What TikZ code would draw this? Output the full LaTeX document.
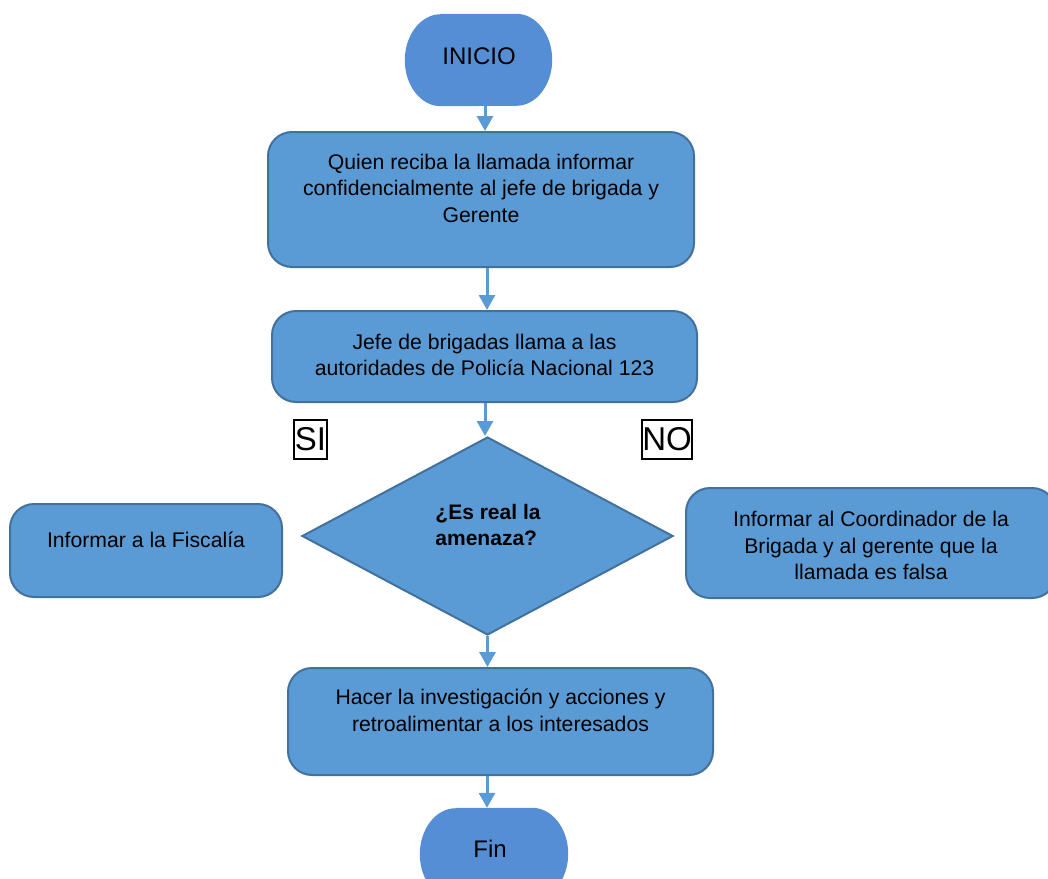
\documentclass[tikz,border=0pt]{standalone}
\usepackage{fontspec}
\setmainfont{Liberation Sans}
\usetikzlibrary{shapes.geometric,arrows.meta}
\definecolor{boxfill}{HTML}{5B9BD5}
\definecolor{boxline}{HTML}{41719C}
\definecolor{termfill}{HTML}{558ED5}
\begin{document}
\begin{tikzpicture}[x=1pt,y=-1pt,
  box/.style={draw=boxline, line width=2pt, fill=boxfill, rounded corners=24pt, inner sep=0pt},
  frame/.style={inner sep=0pt},
  decision/.style={diamond, draw=boxline, line width=2pt, fill=boxfill, inner sep=0pt},
  txt/.style={font=\fontsize{21.2}{26.5}\selectfont, align=center, text=black, inner sep=0pt},
  bigtxt/.style={font=\fontsize{24}{30}\selectfont, text=black, inner sep=0pt},
  tag/.style={draw=black, line width=1.4pt, font=\fontsize{33}{36}\selectfont, inner sep=0pt, text=black},
  arr/.style={draw=boxfill, line width=3pt, -{Triangle[length=15pt,width=16pt]}}]
\useasboundingbox (0,0) rectangle (1048,878);

% terminals
\node[frame, minimum width=147pt, minimum height=92pt] (inicio) at (478.5,60) {};
\fill[termfill] ([xshift=36pt]inicio.north west) -- ([xshift=-36pt]inicio.north east)
  arc[start angle=90,end angle=-90,x radius=36pt,y radius=46pt]
  -- ([xshift=36pt]inicio.south west)
  arc[start angle=270,end angle=90,x radius=36pt,y radius=46pt] -- cycle;
\node[bigtxt] (tinicio) at (479,56) {INICIO};

\node[frame, minimum width=148pt, minimum height=92pt] (fin) at (494,854) {};
\fill[termfill] ([xshift=36pt]fin.north west) -- ([xshift=-36pt]fin.north east)
  arc[start angle=90,end angle=-90,x radius=36pt,y radius=46pt]
  -- ([xshift=36pt]fin.south west)
  arc[start angle=270,end angle=90,x radius=36pt,y radius=46pt] -- cycle;
\node[bigtxt] (tfin) at (490,849) {Fin};

% process boxes
\node[box, minimum width=426pt, minimum height=135pt] (b1) at (481,199.5) {};
\node[txt] (t1) at (481,188) {Quien reciba la llamada informar\\confidencialmente al jefe de brigada y\\Gerente};

\node[box, minimum width=425pt, minimum height=91pt] (b2) at (484.5,356.5) {};
\node[txt] (t2) at (484.5,355) {Jefe de brigadas llama a las\\autoridades de Policía Nacional 123};

\node[decision, minimum width=371pt, minimum height=198pt] (d) at (487.5,536) {};
\node[txt, font=\fontsize{21}{26.5}\selectfont\bfseries, align=left] (td) at (488,525) {¿Es real la\\amenaza?};

\node[box, minimum width=272pt, minimum height=93pt] (fisc) at (146,550.5) {};
\node[txt] (tfisc) at (146,540) {Informar a la Fiscalía};

\node[box, minimum width=370pt, minimum height=110pt] (coord) at (871,543) {};
\node[txt] (tcoord) at (871,545.5) {Informar al Coordinador de la\\Brigada y al gerente que la\\llamada es falsa};

\node[box, minimum width=425pt, minimum height=107pt] (hacer) at (500.5,721.5) {};
\node[txt] (thacer) at (500.5,710.5) {Hacer la investigación y acciones y\\retroalimentar a los interesados};

% labels
\node[tag, minimum width=33pt, minimum height=39pt] (si) at (310.5,439.5) {SI};
\node[tag, minimum width=50pt, minimum height=39pt] (no) at (667,439.5) {NO};

% connectors
\draw[arr] ([xshift=6.5pt]inicio.south) -- ([xshift=6.5pt]inicio.south |- b1.north);
\draw[arr] ([xshift=6pt]b1.south) -- ([xshift=6pt]b1.south |- b2.north);
\draw[arr] ([xshift=0.5pt]b2.south) -- ([xshift=0.5pt]b2.south |- d.north);
\draw[arr] (d.south) -- (d.south |- hacer.north);
\draw[arr] ([xshift=-13.5pt]hacer.south) -- ([xshift=-13.5pt]hacer.south |- fin.north);
\end{tikzpicture}
\end{document}
